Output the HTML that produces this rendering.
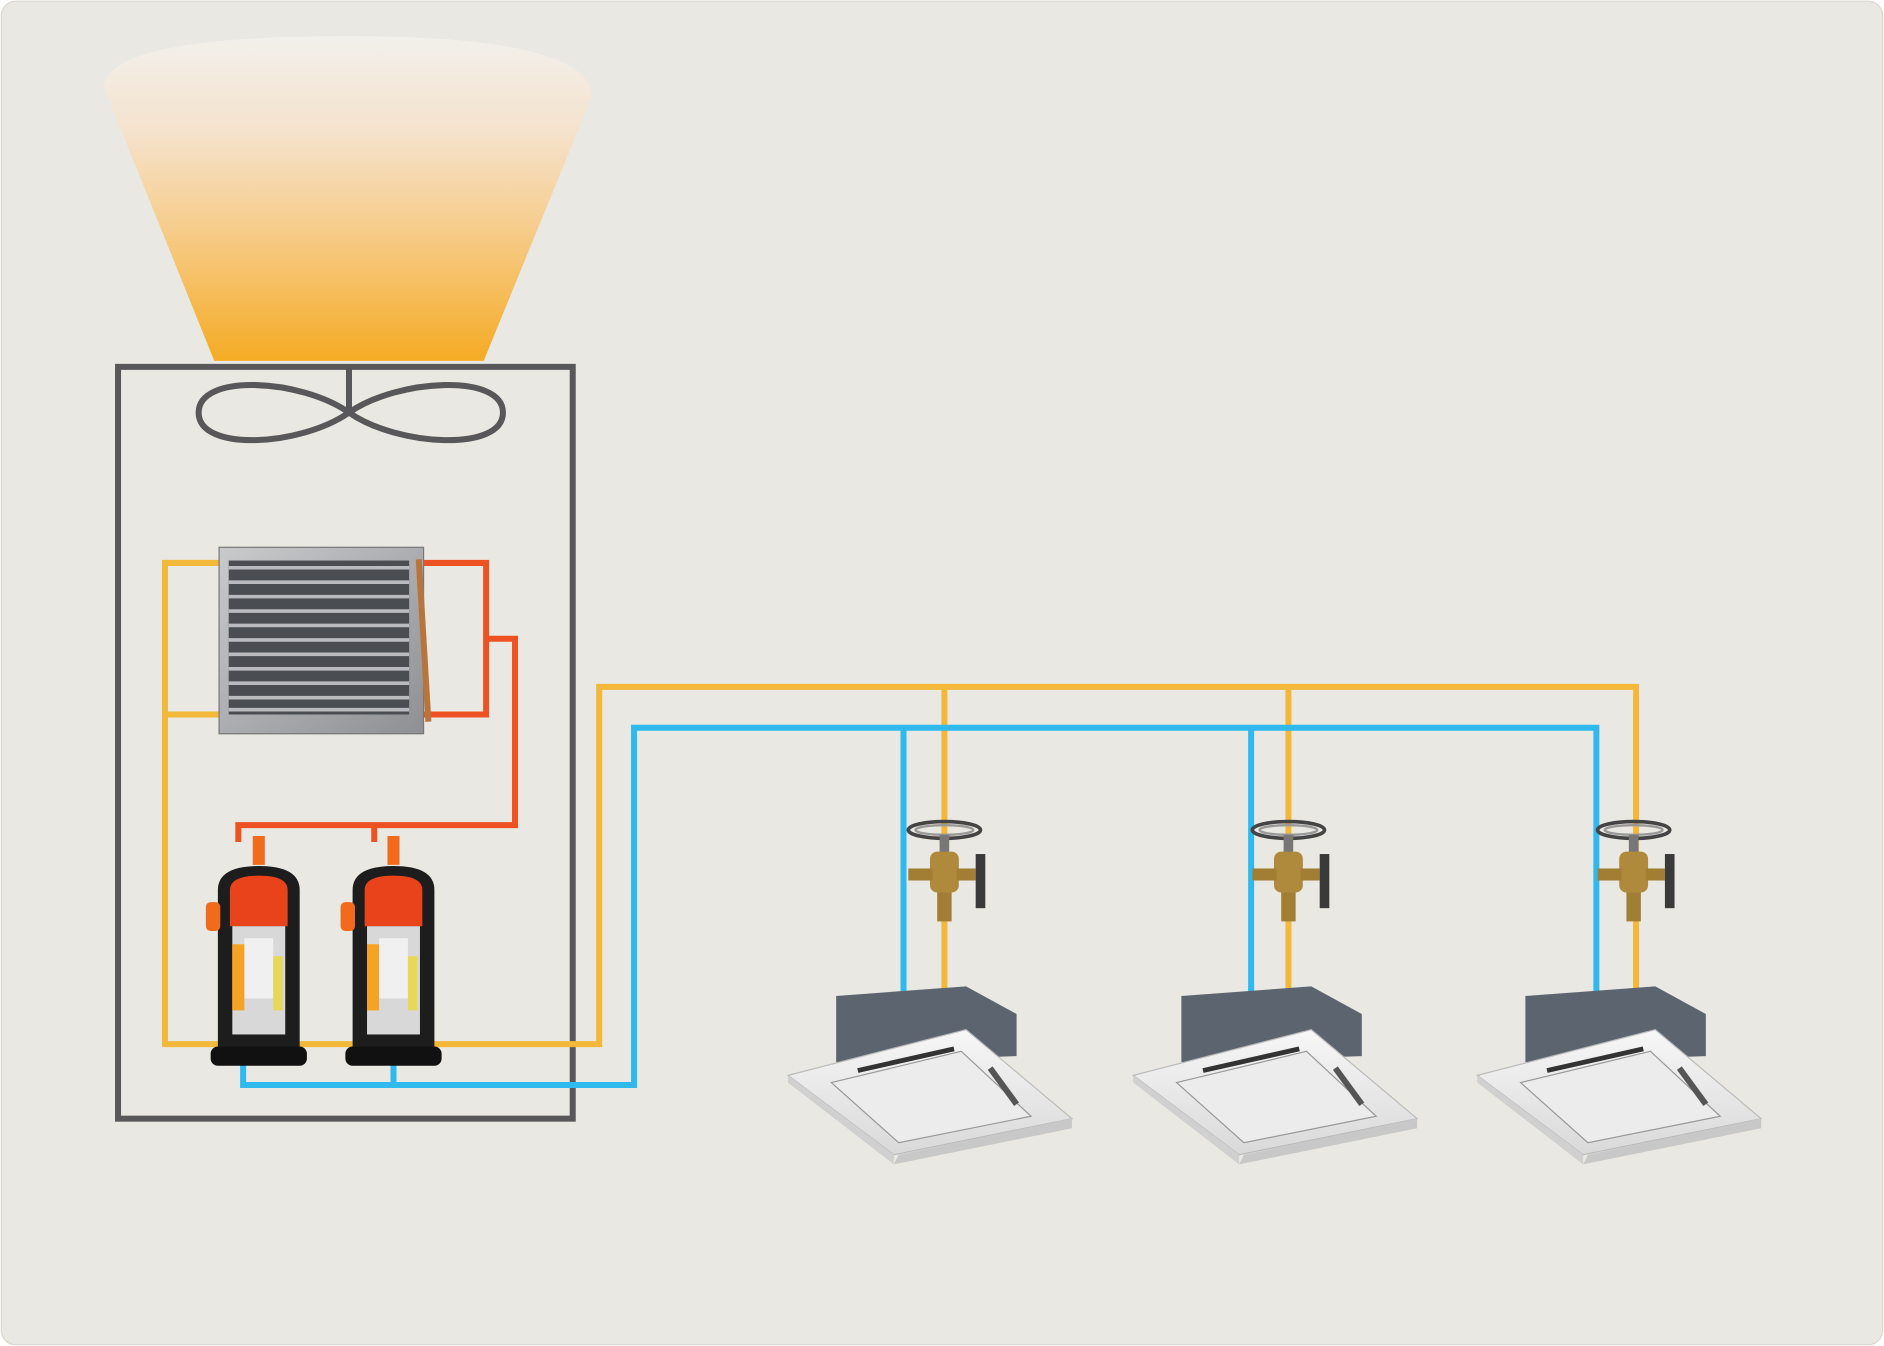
<!DOCTYPE html>
<html><head><meta charset="utf-8"><style>
html,body{margin:0;padding:0;background:#fff;}
svg{display:block;}
</style></head><body>
<svg width="1884" height="1346" viewBox="0 0 1566 1119" xmlns="http://www.w3.org/2000/svg">
<defs>
<linearGradient id="cone" x1="0" y1="0" x2="0" y2="1">
<stop offset="0" stop-color="#f2f0ec"/>
<stop offset="0.3" stop-color="#f5e2cc"/>
<stop offset="0.65" stop-color="#f6c87e"/>
<stop offset="1" stop-color="#f5ab24"/>
</linearGradient>
<linearGradient id="coil" x1="0" y1="0" x2="1" y2="1">
<stop offset="0" stop-color="#c9cacc"/><stop offset="1" stop-color="#8e9093"/>
</linearGradient>
<linearGradient id="cas" x1="0" y1="0" x2="0" y2="1">
<stop offset="0" stop-color="#f7f7f7"/><stop offset="1" stop-color="#d9d9d9"/>
</linearGradient>
<g id="comp">
<rect x="-5" y="-5" width="10" height="24" fill="#f26a1b"/>
<path d="M-34,40 Q-34,20 0,20 Q34,20 34,40 L34,175 L-34,175 Z" fill="#1d1d1d"/>
<path d="M-24,40 Q-24,28 0,28 Q24,28 24,40 L24,70 L-24,70 Z" fill="#e8431a"/>
<rect x="-22" y="70" width="44" height="90" fill="#d8d8d8"/>
<rect x="-12" y="80" width="24" height="50" fill="#f0f0f0"/>
<rect x="-22" y="85" width="10" height="55" fill="#f5a324"/>
<rect x="12" y="95" width="8" height="45" fill="#e8d85a"/>
<rect x="-40" y="170" width="80" height="16" rx="6" fill="#111"/>
<rect x="-44" y="50" width="12" height="24" rx="4" fill="#f26a1b"/>
</g>
<g id="valve">
<ellipse cx="0" cy="-32" rx="30" ry="7" fill="none" stroke="#444" stroke-width="3"/>
<ellipse cx="0" cy="-32" rx="24" ry="4" fill="none" stroke="#999" stroke-width="2"/>
<rect x="-4" y="-28" width="8" height="16" fill="#777"/>
<rect x="-12" y="-14" width="24" height="34" rx="6" fill="#b08a3c"/>
<rect x="-30" y="0" width="20" height="10" fill="#a27e35"/>
<rect x="10" y="0" width="16" height="10" fill="#a27e35"/>
<rect x="26" y="-12" width="8" height="45" fill="#3a3a3a"/>
<rect x="-6" y="20" width="12" height="24" fill="#a27e35"/>
</g>
<g id="cassette">
<path d="M-78,-60 L30,-68 L72,-45 L72,-10 L-78,-5 Z" fill="#5c6470"/>
<path d="M-118,6 L30,-32 L118,42 L-30,72 Z" fill="url(#cas)" stroke="#bbb"/>
<path d="M-82,12 L26,-14 L84,40 L-26,62 Z" fill="#ececec" stroke="#999"/>
<path d="M-60,2 L20,-16" stroke="#333" stroke-width="4"/>
<path d="M50,0 L72,30" stroke="#555" stroke-width="5"/>
<path d="M-26,72 L118,42 L118,50 L-30,80 Z" fill="#c8c8c8"/>
<path d="M-118,6 L-30,72 L-30,80 L-118,12 Z" fill="#d0d0d0"/>
</g>
</defs>
<rect x="1" y="1" width="1564" height="1117" rx="12" fill="#eae8e2" stroke="#d9d7d0"/>
<path d="M86,72 Q90,30 288,30 Q490,30 492,80 L402,300 L178,300 Z" fill="url(#cone)"/>
<rect x="98" y="305" width="378" height="625" fill="none" stroke="#58585a" stroke-width="5"/>
<path d="M290,305 L290,343" stroke="#58585a" stroke-width="5"/>
<path d="M290,343 C250,315 165,310 165,343 C165,376 250,371 290,343 C330,315 418,310 418,343 C418,376 330,371 290,343 Z" fill="none" stroke="#58585a" stroke-width="5"/>
<g fill="none" stroke="#f3b83a" stroke-width="5">
<path d="M182,468 L137,468 L137,868 L498,868 L498,571 L1360,571 L1360,830"/>
<path d="M137,594 L182,594"/>
<path d="M785,571 L785,830"/>
<path d="M1071,571 L1071,830"/>
</g>
<g fill="none" stroke="#30b9ec" stroke-width="5">
<path d="M202,878 L202,902 L527,902 L527,605 L1327,605 L1327,835"/>
<path d="M327,878 L327,902"/>
<path d="M751,605 L751,840"/>
<path d="M1040,605 L1040,840"/>
</g>
<g fill="none" stroke="#ef5222" stroke-width="5">
<path d="M350,468 L404,468 L404,594 L350,594"/>
<path d="M404,531 L428,531 L428,686 L198,686 L198,700"/>
<path d="M311,686 L311,700"/>
</g>
<rect x="182" y="455" width="170" height="155" fill="url(#coil)" stroke="#777"/>
<rect x="190" y="466" width="150" height="128" fill="#4a4d52"/>
<g stroke="#b9bbbe" stroke-width="3">
<path d="M190,472H340M190,484H340M190,496H340M190,508H340M190,520H340M190,532H340M190,544H340M190,556H340M190,568H340M190,580H340M190,590H340"/>
</g>
<g stroke="#b8743d" stroke-width="5">
<path d="M348,465 L356,600"/>
</g>
<use href="#comp" x="215" y="700"/>
<use href="#comp" x="327" y="700"/>
<use href="#valve" x="785" y="722"/>
<use href="#valve" x="1071" y="722"/>
<use href="#valve" x="1358" y="722"/>
<use href="#cassette" x="773" y="888"/>
<use href="#cassette" x="1060" y="888"/>
<use href="#cassette" x="1346" y="888"/>
</svg>
</body></html>
